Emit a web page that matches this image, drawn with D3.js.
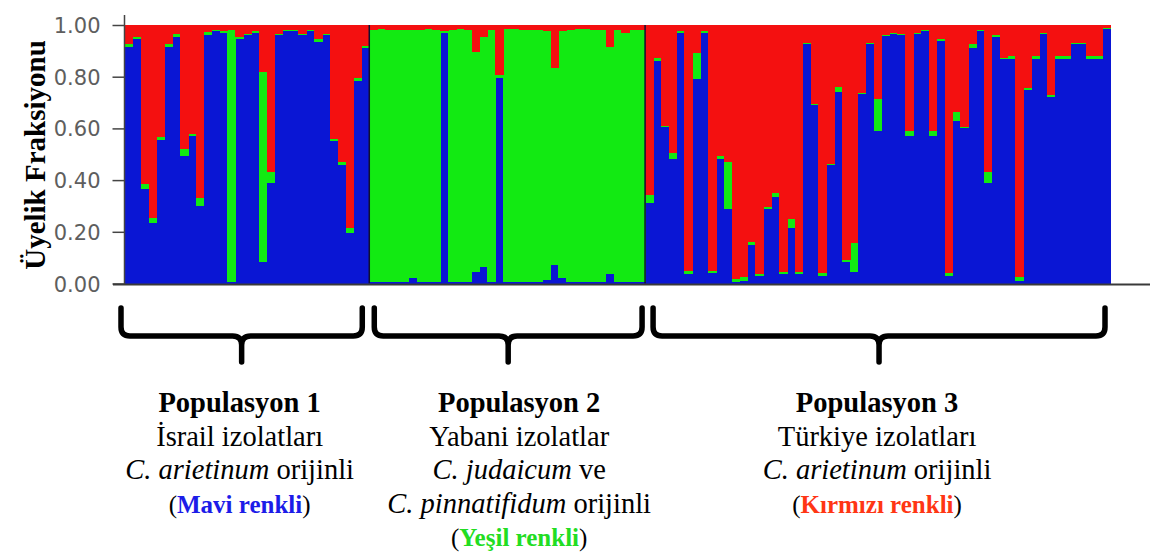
<!DOCTYPE html>
<html><head><meta charset="utf-8">
<script src="https://cdn.jsdelivr.net/npm/d3@7"></script>
<style>
body{margin:0;background:#fff;}
svg{display:block;}
</style>
</head><body>
<svg id="chart" width="1155" height="559"></svg>
<script>
// ---------- DATA ----------
const groups = ["Populasyon 1", "Populasyon 2", "Populasyon 3"];
const seriesKeys = ["blue", "green", "red"];
const seriesColors = ["#0a16d4", "#12ea12", "#f41010"];
const yTickValues = [0, 0.2, 0.4, 0.6, 0.8, 1.0];

// Population 1 (İsrail izolatları)
const blue1  = [0.915,0.945,0.365,0.235,0.555,0.915,0.955,0.495,0.57,0.30,0.962,0.975,0.97,0.005,0.945,0.96,0.97,0.085,0.39,0.96,0.975,0.975,0.962,0.975,0.935,0.962,0.55,0.46,0.195,0.785,0.91];
const green1 = [0.01,0.01,0.02,0.02,0.01,0.01,0.01,0.025,0.01,0.03,0.01,0.005,0.005,0.975,0.01,0.005,0.005,0.735,0.04,0.005,0.005,0.005,0.005,0.005,0.01,0.005,0.01,0.01,0.02,0.01,0.01];
const red1   = [0.075,0.045,0.615,0.745,0.435,0.075,0.035,0.48,0.42,0.67,0.028,0.02,0.025,0.02,0.045,0.035,0.025,0.18,0.57,0.035,0.02,0.02,0.033,0.02,0.055,0.033,0.44,0.53,0.785,0.205,0.08];

// Population 2 (Yabani izolatlar)
const blue2  = [0.005,0.005,0.005,0.005,0.005,0.02,0.005,0.005,0.005,0.97,0.005,0.005,0.005,0.045,0.065,0.005,0.795,0.005,0.005,0.005,0.005,0.005,0.015,0.07,0.02,0.005,0.005,0.005,0.005,0.005,0.035,0.005,0.005,0.005,0.005];
const green2 = [0.975,0.98,0.975,0.975,0.975,0.96,0.975,0.98,0.975,0.005,0.975,0.98,0.975,0.85,0.89,0.975,0.01,0.98,0.98,0.975,0.975,0.975,0.96,0.765,0.955,0.975,0.98,0.98,0.975,0.975,0.88,0.975,0.965,0.975,0.975];
const red2   = [0.02,0.015,0.02,0.02,0.02,0.02,0.02,0.015,0.02,0.025,0.02,0.015,0.02,0.105,0.045,0.02,0.195,0.015,0.015,0.02,0.02,0.02,0.025,0.165,0.025,0.02,0.015,0.015,0.02,0.02,0.085,0.02,0.03,0.02,0.02];

// Population 3 (Türkiye izolatları)
const blue3  = [0.31,0.862,0.605,0.483,0.97,0.035,0.79,0.97,0.04,0.483,0.29,0.005,0.01,0.15,0.028,0.29,0.336,0.035,0.214,0.035,0.925,0.69,0.03,0.457,0.74,0.085,0.045,0.733,0.925,0.59,0.957,0.964,0.96,0.57,0.964,0.975,0.57,0.94,0.03,0.63,0.60,0.91,0.975,0.39,0.955,0.868,0.87,0.01,0.75,0.87,0.964,0.72,0.87,0.87,0.925,0.925,0.87,0.87,0.983];
const green3 = [0.032,0.01,0.005,0.02,0.005,0.012,0.10,0.005,0.01,0.01,0.18,0.012,0.015,0.01,0.01,0.005,0.014,0.01,0.036,0.01,0.005,0.005,0.01,0.005,0.02,0.005,0.11,0.005,0.005,0.125,0.005,0.005,0.005,0.02,0.005,0.005,0.02,0.005,0.01,0.035,0.005,0.015,0.005,0.04,0.005,0.005,0.01,0.015,0.005,0.01,0.005,0.01,0.01,0.01,0.005,0.005,0.01,0.01,0.005];
const red3   = [0.658,0.128,0.39,0.497,0.025,0.953,0.11,0.025,0.95,0.507,0.53,0.983,0.975,0.84,0.962,0.705,0.65,0.955,0.75,0.955,0.07,0.305,0.96,0.538,0.24,0.91,0.845,0.262,0.07,0.285,0.038,0.031,0.035,0.41,0.031,0.02,0.41,0.055,0.96,0.335,0.395,0.075,0.02,0.57,0.04,0.127,0.12,0.975,0.245,0.12,0.031,0.27,0.12,0.12,0.07,0.07,0.12,0.12,0.012];

// Labels under the braces
const groupLines = [
  [ [{t:"Populasyon 1", w:"bold"}],
    [{t:"İsrail izolatları"}],
    [{t:"C. arietinum", s:"italic"}, {t:" orijinli"}],
    [{t:"("}, {t:"Mavi renkli", w:"bold", c:"#1c1ce8"}, {t:")"}] ],
  [ [{t:"Populasyon 2", w:"bold"}],
    [{t:"Yabani izolatlar"}],
    [{t:"C. judaicum", s:"italic"}, {t:" ve"}],
    [{t:"C. pinnatifidum", s:"italic"}, {t:" orijinli"}],
    [{t:"("}, {t:"Yeşil renkli", w:"bold", c:"#22dd22"}, {t:")"}] ],
  [ [{t:"Populasyon 3", w:"bold"}],
    [{t:"Türkiye izolatları"}],
    [{t:"C. arietinum", s:"italic"}, {t:" orijinli"}],
    [{t:"("}, {t:"Kırmızı renkli", w:"bold", c:"#ff3614"}, {t:")"}] ]
];
const yTitle = "Üyelik Fraksiyonu";

// ---------- BUILD ----------
const popData = [[blue1, green1, red1], [blue2, green2, red2], [blue3, green3, red3]];
const rows = [];
const groupRanges = [];
popData.forEach((p, gi) => {
  const start = rows.length;
  p[0].forEach((b, i) => rows.push({idx: rows.length, group: gi, blue: b, green: p[1][i], red: p[2][i]}));
  groupRanges.push([start, rows.length - 1]);
});

const svg = d3.select("#chart");
const plotLeft = 125, plotRight = 1110, plotTop = 25, plotBottom = 283.5;

const x = d3.scaleBand().domain(rows.map(d => d.idx)).range([plotLeft, plotRight]).padding(0);
const y = d3.scaleLinear().domain([0, 1]).range([plotBottom, plotTop]);
const color = d3.scaleOrdinal().domain(seriesKeys).range(seriesColors);

const stacked = d3.stack().keys(seriesKeys)(rows);

svg.append("g").selectAll("g").data(stacked).join("g")
  .attr("fill", d => color(d.key))
  .selectAll("rect").data(d => d).join("rect")
  .attr("x", d => x(d.data.idx))
  .attr("width", x.bandwidth() + 0.6)
  .attr("y", d => y(Math.min(1, d[1])))
  .attr("height", d => Math.max(0, y(d[0]) - y(Math.min(1, d[1]))))
  .attr("shape-rendering", "crispEdges");

// population separators
groupRanges.slice(1).forEach(r => {
  svg.append("line")
    .attr("x1", x(r[0])).attr("x2", x(r[0]))
    .attr("y1", y(1)).attr("y2", y(0))
    .attr("stroke", "#101030").attr("stroke-width", 1.5);
});

// y axis
const yAxis = d3.axisLeft(y).tickValues(yTickValues).tickFormat(d3.format(".2f"))
  .tickSize(12).tickPadding(12).tickSizeOuter(0);
const gy = svg.append("g").attr("transform", `translate(${plotLeft - 0.5},0)`).call(yAxis);
gy.select(".domain").remove();
gy.selectAll(".tick line").attr("stroke", "#444").attr("stroke-width", 1.5);
gy.selectAll(".tick text")
  .attr("fill", "#5e5e5e")
  .style("font-family", "'DejaVu Sans', Verdana, sans-serif")
  .style("font-size", "21px")
  .attr("dy", "0.36em");
svg.append("line").attr("x1", plotLeft - 0.5).attr("x2", plotLeft - 0.5)
  .attr("y1", 15).attr("y2", plotBottom + 1).attr("stroke", "#444").attr("stroke-width", 1.5);
// bottom axis line
svg.append("line").attr("x1", plotLeft - 12).attr("x2", 1150)
  .attr("y1", plotBottom + 1).attr("y2", plotBottom + 1)
  .attr("stroke", "#3a3a3a").attr("stroke-width", 2);

// y title
svg.append("text")
  .attr("transform", "translate(45,155) rotate(-90)")
  .attr("text-anchor", "middle")
  .style("font-family", "'Liberation Serif', 'Times New Roman', serif")
  .style("font-weight", "bold")
  .style("font-size", "29px")
  .attr("fill", "#000")
  .text(yTitle);

// braces
const braceInsets = [[-4, -7], [5, -3], [8, -5]];
const braceTop = 308, braceMid = 336, braceTip = 362, rr = 9;
groupRanges.forEach((r, gi) => {
  const x0 = x(r[0]) + braceInsets[gi][0];
  const x1 = x(r[1]) + x.bandwidth() + braceInsets[gi][1];
  const xm = (x0 + x1) / 2;
  const p = d3.path();
  p.moveTo(x0, braceTop);
  p.lineTo(x0, braceMid - rr);
  p.quadraticCurveTo(x0, braceMid, x0 + rr, braceMid);
  p.lineTo(xm - rr, braceMid);
  p.quadraticCurveTo(xm, braceMid, xm, braceMid + rr);
  p.lineTo(xm, braceTip);
  p.moveTo(xm, braceMid + rr);
  p.quadraticCurveTo(xm, braceMid, xm + rr, braceMid);
  p.lineTo(x1 - rr, braceMid);
  p.quadraticCurveTo(x1, braceMid, x1, braceMid - rr);
  p.lineTo(x1, braceTop);
  svg.append("path").attr("d", p.toString())
    .attr("fill", "none").attr("stroke", "#000").attr("stroke-width", 5.5)
    .attr("stroke-linecap", "round").attr("stroke-linejoin", "round");

  // labels
  const tx = gi === 1 ? xm + 11 : xm - 2;
  const lines = groupLines[gi];
  lines.forEach((segs, li) => {
    const t = svg.append("text")
      .attr("x", tx).attr("y", 412 + li * 33.5)
      .attr("text-anchor", "middle")
      .style("font-family", "'Liberation Serif', 'Times New Roman', serif")
      .style("font-size", li === lines.length - 1 ? "25px" : "28.5px")
      .attr("fill", "#000");
    segs.forEach(s => {
      t.append("tspan").text(s.t)
        .style("font-weight", s.w || "normal")
        .style("font-style", s.s || "normal")
        .attr("fill", s.c || "#000");
    });
  });
});
</script>
</body></html>
